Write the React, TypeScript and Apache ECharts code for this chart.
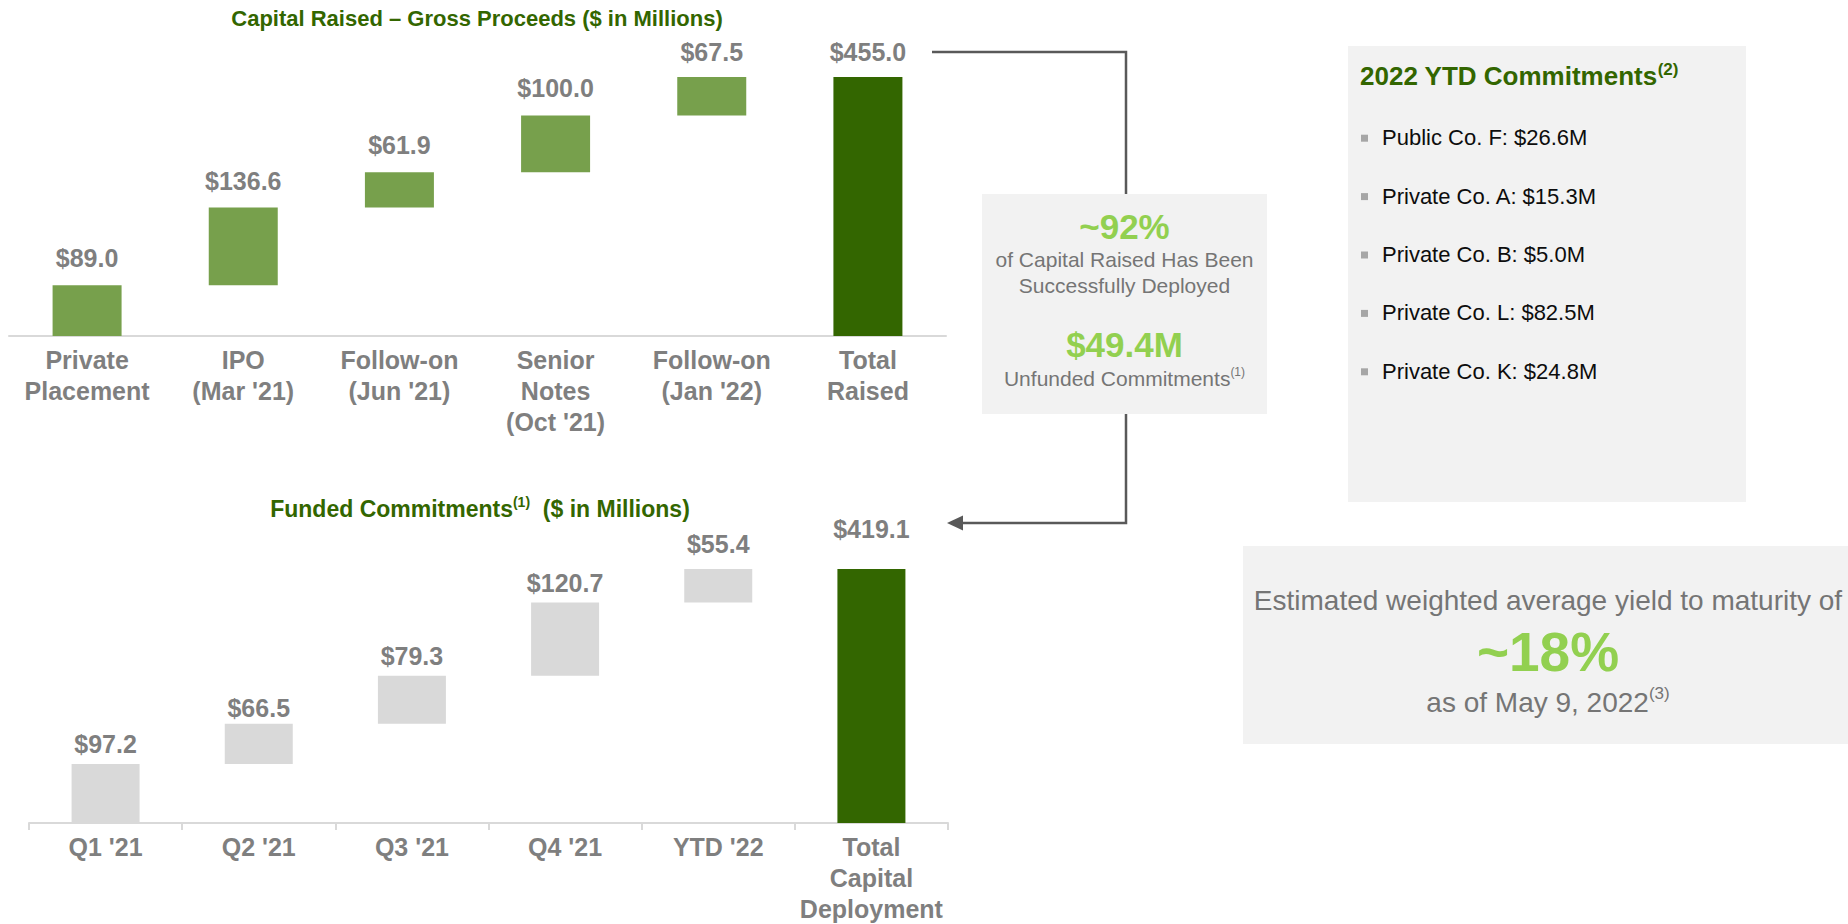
import React, { useEffect, useRef } from 'react';
import * as echarts from 'echarts';

const FONT = '"Liberation Sans", Arial, Helvetica, sans-serif';

// ---------- data ----------
const raisedCategories = [
  'Private\nPlacement',
  "IPO\n(Mar '21)",
  "Follow-on\n(Jun '21)",
  "Senior\nNotes\n(Oct '21)",
  "Follow-on\n(Jan '22)",
  'Total\nRaised',
];
const raisedSteps = [89.0, 136.6, 61.9, 100.0, 67.5];
const raisedTotal = 455.0;

const fundedCategories = ["Q1 '21", "Q2 '21", "Q3 '21", "Q4 '21", "YTD '22", 'Total\nCapital\nDeployment'];
const fundedSteps = [97.2, 66.5, 79.3, 120.7, 55.4];
const fundedTotal = 419.1;

const ytdCommitments = [
  'Public Co. F: $26.6M',
  'Private Co. A: $15.3M',
  'Private Co. B: $5.0M',
  'Private Co. L: $82.5M',
  'Private Co. K: $24.8M',
];

const deployedShare = '~92%';
const unfundedCommitments = '$49.4M';
const yieldToMaturity = '~18%';

// ---------- styles ----------
const DARK_GREEN = '#336600';
const STEP_GREEN = '#77a04c';
const STEP_GRAY = '#d9d9d9';
const LABEL_GRAY = '#7f7f7f';
const LIGHT_GREEN = '#92d050';
const BOX_FILL = '#f2f2f2';
const TEXT_GRAY = '#757575';
const LINE_GRAY = '#595959';
const raisedLabelGap = [15, 14, 15, 15, 13, 13];
const fundedLabelGap = [8, 3, 7, 7, 13, 28];

function waterfall(steps: number[], total: number) {
  const base: number[] = [];
  let run = 0;
  steps.forEach((s) => {
    base.push(run);
    run += s;
  });
  base.push(0);
  return { base, values: [...steps, total] };
}

const money = (p: any) => '$' + Number(p.value).toFixed(1);

export default function App() {
  const ref = useRef<HTMLDivElement>(null);

  useEffect(() => {
    if (!ref.current) return;
    const chart = echarts.init(ref.current, undefined, { renderer: 'svg' });

    const raised = waterfall(raisedSteps, raisedTotal);
    const funded = waterfall(fundedSteps, fundedTotal);

    const axisLabel = {
      color: LABEL_GRAY,
      fontFamily: FONT,
      fontSize: 25,
      fontWeight: 'bold' as const,
      lineHeight: 31,
      margin: 8,
      interval: 0,
    };

    const valueSeries = (
      name: string,
      idx: number,
      values: number[],
      stepColor: string,
      gaps: number[],
      width: number
    ) => ({
      name,
      type: 'bar',
      xAxisIndex: idx,
      yAxisIndex: idx,
      stack: 'wf' + idx,
      barWidth: width,
      silent: true,
      data: values.map((v, i) => ({
        value: v,
        itemStyle: { color: i === values.length - 1 ? DARK_GREEN : stepColor },
        label: { distance: gaps[i] },
      })),
      label: {
        show: true,
        position: 'top',
        formatter: money,
        color: LABEL_GRAY,
        fontFamily: FONT,
        fontSize: 25,
        fontWeight: 'bold',
      },
    });

    const baseSeries = (idx: number, base: number[], width: number) => ({
      name: 'base' + idx,
      type: 'bar',
      xAxisIndex: idx,
      yAxisIndex: idx,
      stack: 'wf' + idx,
      barWidth: width,
      silent: true,
      itemStyle: { color: 'transparent' },
      data: base,
    });

    const txt = (
      x: number,
      y: number,
      text: string,
      size: number,
      color: string,
      bold = false,
      align = 'center'
    ) => ({
      type: 'text',
      x,
      y,
      style: {
        text,
        fill: color,
        font: `${bold ? 'bold ' : ''}${size}px ${FONT}`,
        align,
        verticalAlign: 'middle',
        textAlign: align,
        textVerticalAlign: 'middle',
      },
    });

    const richTxt = (
      x: number,
      y: number,
      main: string,
      sup: string,
      after: string,
      size: number,
      supSize: number,
      color: string,
      bold: boolean,
      align = 'center'
    ) => ({
      type: 'text',
      x,
      y,
      style: {
        text: `{a|${main}}{s|${sup}}` + (after ? `{a|${after}}` : ''),
        align,
        verticalAlign: 'middle',
        textAlign: align,
        textVerticalAlign: 'middle',
        rich: {
          a: {
            fontFamily: FONT,
            fontSize: size,
            fontWeight: bold ? 'bold' : 'normal',
            fill: color,
            lineHeight: Math.round(size * 1.2),
          },
          s: {
            fontFamily: FONT,
            fontSize: supSize,
            fontWeight: bold ? 'bold' : 'normal',
            fill: color,
            lineHeight: supSize,
            verticalAlign: 'top',
          },
        },
      },
    });

    const graphic: any[] = [
      // chart titles
      txt(477, 18, 'Capital Raised \u2013 Gross Proceeds ($ in Millions)', 22, DARK_GREEN, true),
      richTxt(480, 509, 'Funded Commitments', '(1)', '  ($ in Millions)', 23, 14, DARK_GREEN, true),
      // connector
      {
        type: 'polyline',
        shape: { points: [[932, 52], [1126, 52], [1126, 194]] },
        style: { stroke: LINE_GRAY, lineWidth: 2.5, fill: 'none' },
      },
      {
        type: 'polyline',
        shape: { points: [[1126, 414], [1126, 523], [960, 523]] },
        style: { stroke: LINE_GRAY, lineWidth: 2.5, fill: 'none' },
      },
      {
        type: 'polygon',
        shape: { points: [[947, 523], [963, 515.5], [963, 530.5]] },
        style: { fill: LINE_GRAY },
      },
      // middle box
      { type: 'rect', shape: { x: 982, y: 194, width: 285, height: 220 }, style: { fill: BOX_FILL } },
      txt(1124.5, 226, deployedShare, 35, LIGHT_GREEN, true),
      txt(1124.5, 259, 'of Capital Raised Has Been', 21, TEXT_GRAY),
      txt(1124.5, 285, 'Successfully Deployed', 21, TEXT_GRAY),
      txt(1124.5, 344, unfundedCommitments, 35, LIGHT_GREEN, true),
      richTxt(1124.5, 378, 'Unfunded Commitments', '(1)', '', 21, 12, TEXT_GRAY, false),
      // YTD box
      { type: 'rect', shape: { x: 1348, y: 46, width: 398, height: 456 }, style: { fill: BOX_FILL } },
      richTxt(1360, 76, '2022 YTD Commitments', '(2)', '', 26, 17, DARK_GREEN, true, 'left'),
      // yield box
      { type: 'rect', shape: { x: 1243, y: 546, width: 610, height: 198 }, style: { fill: BOX_FILL } },
      txt(1548, 600, 'Estimated weighted average yield to maturity of', 28, TEXT_GRAY),
      txt(1548, 652, yieldToMaturity, 55, LIGHT_GREEN, true),
      richTxt(1548, 702, 'as of May 9, 2022', '(3)', '', 28, 17, TEXT_GRAY, false),
    ];

    ytdCommitments.forEach((item, i) => {
      const cy = 137.7 + i * 58.4;
      graphic.push({
        type: 'rect',
        shape: { x: 1361, y: cy - 3, width: 7, height: 7 },
        style: { fill: '#a6a6a6' },
      });
      graphic.push(txt(1382, cy, item, 22, '#0d0d0d', false, 'left'));
    });

    chart.setOption({
      animation: false,
      backgroundColor: '#ffffff',
      textStyle: { fontFamily: FONT },
      grid: [
        { left: 9, top: 77, width: 937, height: 259, containLabel: false },
        { left: 29, top: 569, width: 919, height: 254, containLabel: false },
      ],
      xAxis: [
        {
          type: 'category',
          gridIndex: 0,
          data: raisedCategories,
          axisLine: { show: true, lineStyle: { color: '#d9d9d9', width: 2 } },
          axisTick: { show: false },
          axisLabel,
        },
        {
          type: 'category',
          gridIndex: 1,
          data: fundedCategories,
          axisLine: { show: true, lineStyle: { color: '#d9d9d9', width: 2 } },
          axisTick: { show: true, length: 7, lineStyle: { color: '#d9d9d9', width: 2 } },
          axisLabel,
        },
      ],
      yAxis: [
        { type: 'value', gridIndex: 0, min: 0, max: raisedTotal, show: false, splitLine: { show: false } },
        { type: 'value', gridIndex: 1, min: 0, max: fundedTotal, show: false, splitLine: { show: false } },
      ],
      series: [
        baseSeries(0, raised.base, 69),
        valueSeries('Gross Proceeds', 0, raised.values, STEP_GREEN, raisedLabelGap, 69),
        baseSeries(1, funded.base, 68),
        valueSeries('Funded Commitments', 1, funded.values, STEP_GRAY, fundedLabelGap, 68),
      ],
      graphic,
    });

    return () => chart.dispose();
  }, []);

  return (
    <div
      ref={ref}
      style={{ position: 'absolute', left: 0, top: 0, width: 1848, height: 924 }}
    />
  );
}
